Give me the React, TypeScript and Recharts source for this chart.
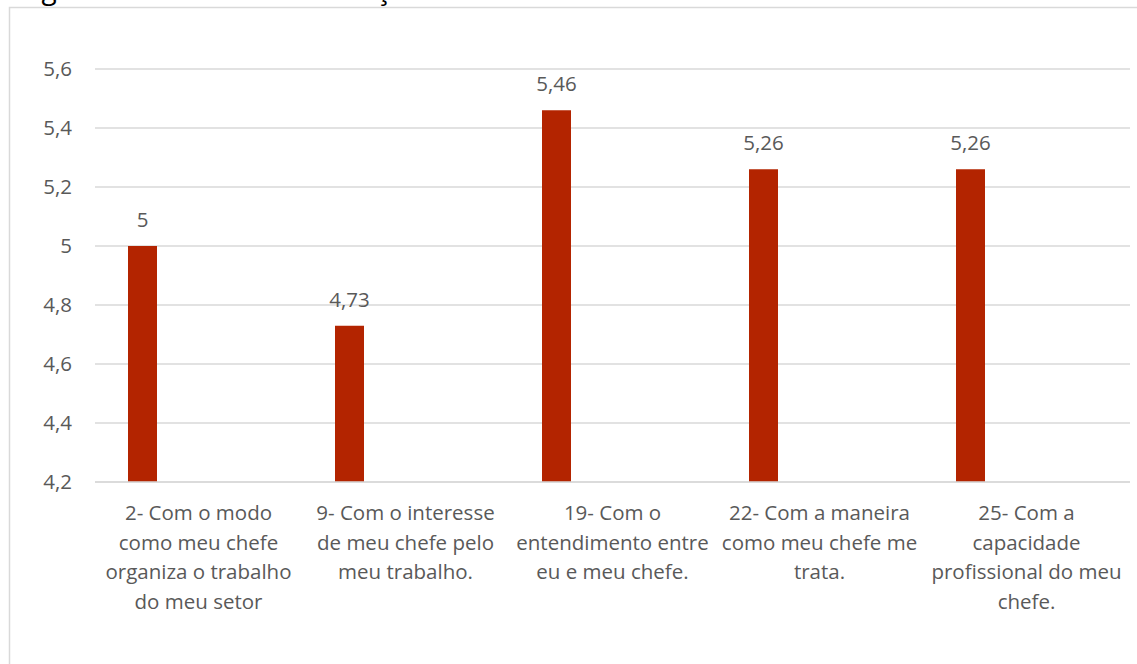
import React from "react";
import { BarChart, Bar, XAxis, YAxis, CartesianGrid, LabelList } from "recharts";

const categories = [
  "2- Com o modo\ncomo meu chefe\norganiza o trabalho\ndo meu setor",
  "9- Com o interesse\nde meu chefe pelo\nmeu trabalho.",
  "19- Com o\nentendimento entre\neu e meu chefe.",
  "22- Com a maneira\ncomo meu chefe me\ntrata.",
  "25- Com a\ncapacidade\nprofissional do meu\nchefe.",
];
const medias = [5, 4.73, 5.46, 5.26, 5.26];
const yTicks = [4.2, 4.4, 4.6, 4.8, 5, 5.2, 5.4, 5.6];
const title = "Figura 14 - Média de satisfação com o chefe";

const data = categories.map((c, i) => ({ item: c, media: medias[i], vazio: null }));

const FONT = "'Open Sans', sans-serif";
const GRAY = "#595959";
const fmt = (v: number) => String(v).replace(".", ",");

function CategoryTick({ x, y, payload }: any) {
  const lines = String(payload.value).split("\n");
  return (
    <text x={x} y={y + 30} textAnchor="middle" fill={GRAY} fontSize={20.5} fontFamily={FONT}>
      {lines.map((l, i) => (
        <tspan key={i} x={x} dy={i === 0 ? 0 : 29.5}>{l}</tspan>
      ))}
    </text>
  );
}

export default function App() {
  return (
    <div style={{ position: "absolute", left: 0, top: 0, width: 1137, height: 664, overflow: "hidden", background: "#fff" }}>
      <svg width={1137} height={664} style={{ position: "absolute", left: 0, top: 0 }}>
        <text x={20} y={-1} fontSize={28} fontFamily={FONT} fill="#000">{title}</text>
        <path d="M9.5 664 V7.5 H1137" fill="none" stroke="#d9d9d9" strokeWidth={1.5} />
      </svg>
      <div style={{ position: "absolute", left: 0, top: 0 }}>
        <BarChart
          width={1137}
          height={664}
          data={data}
          margin={{ top: 69, right: 7, bottom: 152, left: 0 }}
          barSize={29}
          barGap={83}
        >
          <CartesianGrid horizontal vertical={false} stroke="#d9d9d9" strokeWidth={1.5} />
          <XAxis
            dataKey="item"
            interval={0}
            axisLine={{ stroke: "#d9d9d9", strokeWidth: 1.5 }}
            tickLine={false}
            tick={<CategoryTick />}
          />
          <YAxis
            width={95}
            domain={[4.2, 5.6]}
            ticks={yTicks}
            axisLine={false}
            tickLine={false}
            tickMargin={17}
            tickFormatter={fmt}
            tick={{ fill: GRAY, fontSize: 20.5, fontFamily: FONT }}
          />
          <Bar dataKey="media" fill="#b32400" isAnimationActive={false}>
            <LabelList
              dataKey="media"
              position="top"
              offset={19}
              formatter={fmt}
              style={{ fill: GRAY, fontSize: 20.5, fontFamily: FONT }}
            />
          </Bar>
          <Bar dataKey="vazio" fill="#b32400" isAnimationActive={false} />
        </BarChart>
      </div>
    </div>
  );
}
